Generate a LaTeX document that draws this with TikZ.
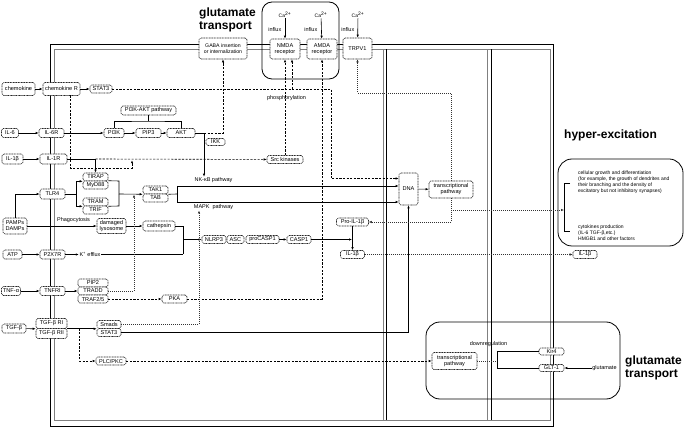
\documentclass[tikz,border=0pt]{standalone}
\usepackage{fontspec}
\setmainfont{Liberation Sans}
\usetikzlibrary{arrows.meta}
\begin{document}
\begin{tikzpicture}[x=1pt,y=-1pt,
  nd/.style={draw=black!85, dash pattern=on 1pt off 0.6pt, line width=0.55pt, rounded corners=1.8pt, fill=white, font=\fontsize{5.6}{6}\selectfont, inner sep=0.5pt, align=center},
  lab/.style={font=\fontsize{5.5}{6}\selectfont, inner sep=0.5pt, align=center},
  ar/.style={-{Latex[length=3pt,width=2.4pt]}},
  ln/.style={line width=0.6pt, black},
  dl/.style={line width=0.6pt, black, dash pattern=on 2.2pt off 1.4pt},
  tl/.style={line width=0.5pt, black!80, dash pattern=on 1.2pt off 0.8pt},
  mem1/.style={line width=1pt, black},
  mem2/.style={line width=0.8pt, black!50},
  bigbox/.style={line width=0.8pt, black},
  title/.style={font=\fontsize{12}{13}\selectfont\bfseries, align=left, inner sep=0pt},
]
\useasboundingbox (0,0) rectangle (685,427);
\fill[white] (0,0) rectangle (685,427);

% membranes
\draw[mem1] (50,45) rectangle (553,426);
\draw[mem2] (54,49.5) rectangle (550,420);
\draw[mem2] (383,49.5) -- (383,420);
\draw[mem1] (386.5,49.5) -- (386.5,420);
\draw[mem2] (487.5,49.5) -- (487.5,420);
\draw[mem1] (491,49.5) -- (491,420);

% big rounded boxes
\draw[bigbox, rounded corners=10pt] (262,2) rectangle (339,79);
\draw[bigbox, rounded corners=14pt] (558,159) rectangle (683,246);
\draw[bigbox, rounded corners=14pt] (426,322) rectangle (620,399);

% titles
\node[title, anchor=west] (gt1) at (199,19.5) {glutamate\\transport};
\node[title, anchor=west] (hyp) at (564,135) {hyper-excitation};
\node[title, anchor=west] (gt2) at (625,367.5) {glutamate\\transport};

% nodes
\node[nd, minimum width=33pt, minimum height=13pt] (chem) at (18.5,89) {chemokine};
\node[nd, minimum width=37pt, minimum height=13pt] (chemR) at (61.5,89) {chemokine R};
\node[nd, minimum width=22pt, minimum height=8pt] (stat3a) at (101,89) {STAT3};
\node[nd, minimum width=55pt, minimum height=9pt] (pipath) at (148.5,110.5) {PI3K-AKT pathway};
\node[nd, minimum width=17pt, minimum height=9pt] (il6) at (10,133) {IL-6};
\node[nd, minimum width=25pt, minimum height=9pt] (il6r) at (51.5,133) {IL-6R};
\node[nd, minimum width=20pt, minimum height=9pt] (pi3k) at (114,133) {PI3K};
\node[nd, minimum width=25pt, minimum height=9pt] (pip3) at (148.5,133) {PIP3};
\node[nd, minimum width=28pt, minimum height=9pt] (akt) at (181,133) {AKT};
\node[nd, minimum width=19pt, minimum height=7pt] (ikk) at (215.5,142) {IKK};
\node[nd, minimum width=21pt, minimum height=10pt] (il1b) at (12.5,159) {IL-1β};
\node[nd, minimum width=27pt, minimum height=10pt] (il1r) at (53.5,159) {IL-1R};
\node[nd, minimum width=36pt, minimum height=8pt] (src) at (285,159.5) {Src kinases};
\node[nd, minimum width=25pt, minimum height=8pt] (tirap) at (95.5,177) {TIRAP};
\node[nd, minimum width=25pt, minimum height=8pt] (myd) at (95.5,185) {MyD88};
\node[nd, minimum width=25pt, minimum height=10pt] (tlr4) at (52.5,194) {TLR4};
\node[nd, minimum width=25pt, minimum height=8pt] (tram) at (95.5,202) {TRAM};
\node[nd, minimum width=25pt, minimum height=8pt] (trif) at (95.5,210) {TRIF};
\node[nd, minimum width=25pt, minimum height=8pt] (tak1) at (155.5,190) {TAK1};
\node[nd, minimum width=25pt, minimum height=8pt] (tab) at (155.5,198) {TAB};
\node[nd, minimum width=24pt, minimum height=16pt] (pamps) at (15,226) {PAMPs\\DAMPs};
\node[nd, minimum width=29pt, minimum height=15pt] (lyso) at (111.5,226) {damaged\\lysosome};
\node[nd, minimum width=32pt, minimum height=10pt] (cath) at (159,226) {cathepsin};
\node[nd, minimum width=24pt, minimum height=8pt] (nlrp3) at (214,239.5) {NLRP3};
\node[nd, minimum width=17pt, minimum height=8pt] (asc) at (235.5,239.5) {ASC};
\node[nd, minimum width=33pt, minimum height=8pt] (procasp) at (262.5,239.5) {proCASP1};
\node[nd, minimum width=24pt, minimum height=8pt] (casp1) at (299,239.5) {CASP1};
\node[nd, minimum width=32pt, minimum height=8pt] (proil) at (352.5,222) {Pro-IL-1β};
\node[nd, minimum width=24pt, minimum height=8pt] (il1bb) at (352.5,254.5) {IL-1β};
\node[nd, minimum width=24pt, minimum height=8pt] (il1bc) at (585,254.5) {IL-1β};
\node[nd, minimum width=19pt, minimum height=9pt] (atp) at (12.5,254.5) {ATP};
\node[nd, minimum width=25pt, minimum height=9pt] (p2x7r) at (52.5,254.5) {P2X7R};
\node[lab] (kefflux) at (90,254.5) {K\textsuperscript{+} efflux};
\node[nd, minimum width=19pt, minimum height=9pt] (tnfa) at (11,291) {TNF-α};
\node[nd, minimum width=25pt, minimum height=9pt] (tnfri) at (52.5,291) {TNFRI};
\node[nd, minimum width=30pt, minimum height=8pt] (pip2) at (93,283) {PIP2};
\node[nd, minimum width=30pt, minimum height=8pt] (tradd) at (93,291) {TRADD};
\node[nd, minimum width=30pt, minimum height=8pt] (traf) at (93,299) {TRAF2/5};
\node[nd, minimum width=25pt, minimum height=8pt] (pka) at (174.5,299) {PKA};
\node[nd, minimum width=24pt, minimum height=9pt] (tgfb) at (14,328.5) {TGF-β};
\node[nd, minimum width=31pt, minimum height=10pt] (tgfri) at (51.5,323.5) {TGF-β RI};
\node[nd, minimum width=31pt, minimum height=10pt] (tgfrii) at (51.5,333.5) {TGF-β RII};
\node[nd, minimum width=24pt, minimum height=8pt] (smads) at (109,324.5) {Smads};
\node[nd, minimum width=24pt, minimum height=8pt] (stat3b) at (109,332.5) {STAT3};
\node[nd, minimum width=30pt, minimum height=8pt] (plc) at (111,361) {PLC/PKC};
\node[nd, minimum width=19pt, minimum height=32pt] (dna) at (408.5,189) {DNA};
\node[nd, minimum width=44pt, minimum height=17pt] (tp1) at (451,189.5) {transcriptional\\pathway};
\node[nd, minimum width=45pt, minimum height=17pt] (tp2) at (454.5,361) {transcriptional\\pathway};
\node[nd, minimum width=25pt, minimum height=7pt] (kir4) at (551.5,351.5) {Kir4};
\node[nd, minimum width=25pt, minimum height=7pt] (glt1) at (551.5,368) {GLT-1};
\node[nd, minimum width=48pt, minimum height=21pt, font=\fontsize{5.2}{6}\selectfont] (gaba) at (223,48.5) {GABA insertion\\or internalization};
\node[nd, minimum width=30pt, minimum height=20pt] (nmda) at (285,49) {NMDA\\receptor};
\node[nd, minimum width=30pt, minimum height=20pt] (amda) at (322,49) {AMDA\\receptor};
\node[nd, minimum width=29pt, minimum height=21pt] (trpv1) at (357.5,48.5) {TRPV1};

% labels
\node[lab] (nfkb) at (213.5,180) {NK-κB pathway};
\node[lab] (mapk) at (213.5,207) {MAPK\ \ pathway};
\node[lab, fill=white] (phos) at (286.5,98) {phosphorylation};
\node[lab] (phago) at (73.5,220) {Phagocytosis};
\node[lab] (down) at (488.5,344) {downregulation};
\node[lab] (glu) at (604.5,368) {glutamate};
\node[lab, font=\fontsize{5}{6}\selectfont] (cal1) at (285,15) {Ca\textsuperscript{2+}};
\node[lab, font=\fontsize{5}{6}\selectfont] (cal2) at (321,15) {Ca\textsuperscript{2+}};
\node[lab, font=\fontsize{5}{6}\selectfont] (cal3) at (358,15) {Ca\textsuperscript{2+}};
\node[lab, anchor=east] (inf1) at (282,30) {influx};
\node[lab, anchor=east] (inf2) at (318,30) {influx};
\node[lab, anchor=east] (inf3) at (355,30) {influx};
\node[anchor=north west, inner sep=0, align=left, font=\fontsize{5}{6}\selectfont] (txt1) at (578,170.5) {cellular growth and differentiation\\(for example, the growth of dendrites and\\their branching and the density of\\excitatory but not inhibitory synapses)};
\node[anchor=north west, inner sep=0, align=left, font=\fontsize{5}{6}\selectfont] (txt2) at (578,224.5) {cytokines production\\(IL-6 TGF-β,etc.)\\HMGB1 and other factors};

% Ca influx
\draw[ln,ar] (cal1) -- (nmda);
\draw[ln,ar] (cal2) -- (amda);
\draw[ln,ar] (cal3) -- (trpv1);

% chemokine row
\draw[ln,ar] (chem) -- (chemR);
\draw[ln,ar] (chemR) -- (stat3a);
\coordinate (s1) at (292,89);
\coordinate (s2) at (331,89);
\coordinate (s3) at (331,178.5);
\draw[dl] (stat3a) -- (s1);
\draw[dl,ar] (s1) -- (nmda.south -| s1);
\draw[dl,ar] (s1) -- (s2) -- (s3) -- (dna.west |- s3);
\coordinate (c1) at (70,95.5);
\coordinate (c2) at (70,168);
\coordinate (c3) at (132,168);
\coordinate (c4) at (132,160.2);
\draw[dl,ar] (c1) -- (c2) -- (c3) -- (c4);

% PI3K row
\draw[ln,ar] (il6) -- (il6r);
\draw[ln,ar] (il6r) -- (pi3k);
\draw[ln,ar] (pi3k) -- (pip3);
\draw[ln,ar] (pip3) -- (akt);
\coordinate (b1) at (148.5,121);
\draw[ln] (pipath) -- (b1);
\draw[ln] (pi3k.north) |- (b1) -| (akt.north);
\coordinate (aktj) at (204,133);
\draw[ln] (akt) -- (aktj);
\draw[ln,ar] (aktj) -- (aktj |- nfkb.north);
\draw[dl,ar] (aktj) -| (gaba.south);

% IL-1
\draw[ln,ar] (il1b) -- (il1r);
\coordinate (j1) at (95.5,159);
\draw[ln] (il1r) -- (j1);
\draw[ln,ar] (j1) -- (tirap.north);
\draw[dl,ar] (j1) -- (src);
\draw[dl,ar] (src) -- (nmda.south);

% TLR4
\coordinate (pa1) at (15,194);
\draw[ln,ar] (pamps.north) -- (pa1) -- (tlr4.west);
\coordinate (tl1) at (76,194);
\draw[ln] (tlr4) -- (tl1);
\draw[ln,ar] (tl1) |- (tirap.south west);
\draw[ln,ar] (tl1) |- (tram.south west);
\coordinate (r1) at (119,181);
\coordinate (r2) at (119,206);
\coordinate (r3) at (119,194);
\draw[ln] (myd.north east) -- (r1) -- (r2) -- (tram.south east);
\draw[ln,ar] (r3) -- (tak1.south west);
\coordinate (k1) at (177,194);
\coordinate (k2) at (177,186);
\coordinate (k3) at (177,202);
\draw[ln] (tak1.south east) -- (k1);
\draw[ln] (k2) -- (k3);
\draw[ln,ar] (k2) -- (dna.west |- k2);
\draw[ln,ar] (k3) -- (dna.west |- k3);

% PAMPs / lysosome / inflammasome
\draw[ln,ar] (pamps) -- (lyso);
\draw[ln,ar] (lyso) -- (cath);
\coordinate (q1) at (183,226);
\coordinate (q2) at (183,239.5);
\coordinate (q3) at (183,254.5);
\draw[ln] (cath) -- (q1) -- (q3);
\draw[ln,ar] (q2) -- (nlrp3);
\draw[ln,ar] (atp) -- (p2x7r);
\draw[ln,ar] (p2x7r) -- (kefflux);
\draw[ln] (kefflux) -- (q3);
\draw[ln,ar] (procasp) -- (casp1);
\coordinate (cp) at (352,239.5);
\draw[ln,ar] (casp1) -- (cp);
\draw[ln,ar] (proil) -- (il1bb);
\draw[tl,ar] (il1bb) -- (il1bc);

% TNF
\draw[ln,ar] (tnfa) -- (tnfri);
\draw[ln,ar] (tnfri) -- (tradd);
\coordinate (td1) at (134,291);
\coordinate (td2) at (134,194.6);
\draw[tl,ar] (tradd) -- (td1) -- (td2);
\draw[dl,ar] (traf) -- (pka);
\draw[dl,ar] (pka) -| (amda.south);

% TGF
\draw[ln,ar] (tgfb) -- (tgfri.south west);
\draw[ln,ar] (tgfri.south east) -- (smads.south west);
\coordinate (pl1) at (79,328.5);
\draw[dl,ar] (pl1) |- (plc);
\draw[dl,ar] (plc) -- (tp2);
\coordinate (sm1) at (199,324.5);
\coordinate (sm2) at (199,210.5);
\draw[tl,ar] (smads) -- (sm1) -- (sm2);
\coordinate (st1) at (408.5,332.5);
\draw[ln,ar] (stat3b) -- (st1) -- (dna.south);

% nucleus outputs
\draw[ln,ar] (dna) -- (tp1);
\coordinate (t1) at (357.5,93);
\draw[tl,ar] (tp1.north) |- (t1) -- (trpv1.south);
\coordinate (t2) at (451,210);
\coordinate (t3) at (451,222);
\draw[tl] (tp1.south) -- (t3);
\draw[tl,ar] (t3) -- (proil);
\coordinate (hb) at (564,210);
\draw[tl,ar] (t2) -- (hb);
\coordinate (h1) at (570,183);
\coordinate (h2) at (564,183);
\coordinate (h3) at (564,231);
\coordinate (h4) at (570,231);
\draw[ln] (h1) -- (h2) -- (h3) -- (h4);

% glutamate transport box
\coordinate (d1) at (497,361);
\draw[tl] (tp2) -- (d1);
\draw[ln] (kir4.west -| d1) -- (glt1.west -| d1);
\draw[ln] (kir4.west -| d1) -- (kir4.west);
\draw[ln] (glt1.west -| d1) -- (glt1.west);
\draw[ln,ar] (glu) -- (glt1);
\end{tikzpicture}
\end{document}
